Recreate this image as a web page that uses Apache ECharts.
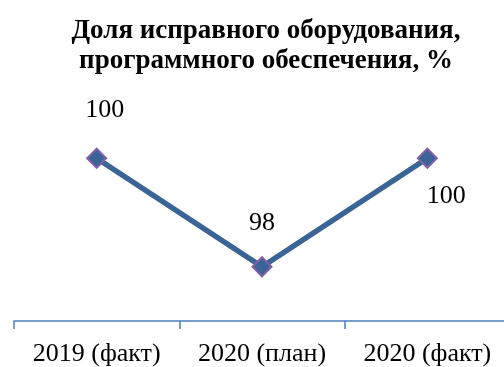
<!DOCTYPE html>
<html>
<head>
<meta charset="utf-8">
<style>
  html, body { margin: 0; padding: 0; background: #ffffff; overflow: hidden; }
  /* the axis runs slightly past the right edge of the page */
  #chart { width: 510px; height: 367px; }
</style>
<script src="https://cdn.jsdelivr.net/npm/echarts@6/dist/echarts.min.js"></script>
</head>
<body>
<div id="chart"></div>
<script>
// Share of working equipment and software, %
const categories = ['2019 (факт)', '2020 (план)', '2020 (факт)'];
const shareValues = [100, 98, 100];
// Offsets of each value label from its point, in pixels
const labelOffsets = [[8, -48], [0, -44], [19, 38]];

const chart = echarts.init(document.getElementById('chart'), null, { renderer: 'canvas' });

const serif = '"Liberation Serif", "Times New Roman", serif';

chart.setOption({
  animation: false,
  title: {
    text: 'Доля исправного оборудования,\nпрограммного обеспечения, %',
    left: 261,
    textAlign: 'center',
    top: 11,
    textStyle: {
      fontFamily: serif,
      fontWeight: 'bold',
      fontSize: 27,
      lineHeight: 30,
      color: '#000000'
    }
  },
  grid: { left: 14, right: 0, top: 104, height: 218 },
  xAxis: {
    type: 'category',
    data: categories,
    boundaryGap: true,
    axisLine: { lineStyle: { color: '#4A7EBB', width: 1.5 } },
    axisTick: { show: true, interval: 0, length: 8, lineStyle: { color: '#4A7EBB', width: 1.5 } },
    axisLabel: {
      interval: 0,
      fontFamily: serif,
      fontSize: 26,
      color: '#000000',
      margin: 20
    }
  },
  yAxis: {
    type: 'value',
    min: 97,
    max: 101,
    show: false
  },
  series: [{
    type: 'line',
    data: shareValues.map((v, i) => ({
      value: v,
      label: { offset: labelOffsets[i] }
    })),
    symbol: 'diamond',
    symbolSize: 19,
    lineStyle: { color: '#3A6496', width: 5.5 },
    itemStyle: { color: '#3A6496', borderColor: '#8060A8', borderWidth: 2 },
    label: {
      show: true,
      position: 'inside',
      align: 'center',
      verticalAlign: 'middle',
      fontFamily: serif,
      fontSize: 26,
      color: '#000000'
    }
  }]
});
</script>
</body>
</html>
